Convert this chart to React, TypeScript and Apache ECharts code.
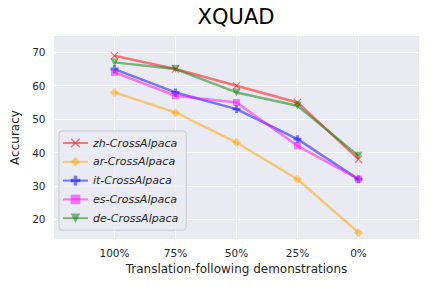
import React, { useEffect, useRef } from "react";
import * as echarts from "echarts";

const categories = ["100%", "75%", "50%", "25%", "0%"];
const zhValues = [69, 65, 60, 55, 38];
const arValues = [58, 52, 43, 32, 16];
const itValues = [65, 58, 53, 44, 32];
const esValues = [64, 57, 55, 42, 32];
const deValues = [67, 65, 58, 54, 39];
const yTicks = [20, 30, 40, 50, 60, 70];

const FONT = "DejaVu Sans";
const TXT = "#262626";

const X_PATH = "path://M0,1 L1,0 L5,4 L9,0 L10,1 L6,5 L10,9 L9,10 L5,6 L1,10 L0,9 L4,5 Z";
const PLUS_PATH = "path://M3.2,0 H6.8 V3.2 H10 V6.8 H6.8 V10 H3.2 V6.8 H0 V3.2 H3.2 Z";

const seriesDefs = [
  { name: "zh-CrossAlpaca", values: zhValues, color: "#ff0000", symbol: X_PATH, size: 8, rotate: 0 },
  { name: "ar-CrossAlpaca", values: arValues, color: "#ffa500", symbol: "diamond", size: 9, rotate: 0 },
  { name: "it-CrossAlpaca", values: itValues, color: "#0000ff", symbol: PLUS_PATH, size: 8, rotate: 0 },
  { name: "es-CrossAlpaca", values: esValues, color: "#ff00ff", symbol: "rect", size: 7, rotate: 0 },
  { name: "de-CrossAlpaca", values: deValues, color: "#008000", symbol: "triangle", size: 8, rotate: 180 },
];

export default function App() {
  const ref = useRef<HTMLDivElement>(null);
  useEffect(() => {
    if (!ref.current) return;
    const chart = echarts.init(ref.current, undefined, { renderer: "svg" });
    chart.setOption({
      animation: false,
      backgroundColor: "#ffffff",
      title: {
        text: "XQUAD",
        left: 236,
        top: 6,
        textAlign: "center",
        padding: 0,
        textStyle: { fontFamily: FONT, fontSize: 21, fontWeight: "normal", color: "#000000" },
      },
      grid: { left: 53.5, right: 12.5, top: 36, bottom: 49, show: true, backgroundColor: "#EAEAF2", borderWidth: 0 },
      xAxis: {
        type: "value",
        min: -1,
        max: 5,
        interval: 1,
        name: "Translation-following demonstrations",
        nameLocation: "middle",
        nameGap: 20,
        nameTextStyle: { fontFamily: FONT, fontSize: 12, color: TXT },
        axisLine: { show: false },
        axisTick: { show: false },
        axisLabel: {
          fontFamily: FONT,
          fontSize: 10.5,
          color: TXT,
          margin: 8,
          formatter: (v: number) => (categories[v] !== undefined ? categories[v] : ""),
        },
        splitLine: { show: true, lineStyle: { color: "#ffffff", width: 1 } },
      },
      yAxis: {
        type: "value",
        min: 14.1,
        max: 74.9,
        name: "Accuracy",
        nameLocation: "middle",
        nameRotate: 90,
        nameGap: 25,
        nameTextStyle: { fontFamily: FONT, fontSize: 12, color: TXT },
        axisLine: { show: false },
        axisTick: { show: false, customValues: yTicks },
        axisLabel: { fontFamily: FONT, fontSize: 10.5, color: TXT, margin: 8, customValues: yTicks },
        splitLine: { show: true, lineStyle: { color: "#ffffff", width: 1 } },
      },
      legend: {
        orient: "vertical",
        left: 59,
        top: 131,
        itemWidth: 25,
        itemHeight: 12,
        itemGap: 7.8,
        padding: [6.5, 8, 6.5, 3],
        backgroundColor: "rgba(234,234,242,0.8)",
        borderColor: "#cccccc",
        borderWidth: 1,
        borderRadius: 3,
        textStyle: { fontFamily: FONT, fontSize: 11, fontStyle: "italic", color: TXT },
        data: seriesDefs.map((s) => s.name),
      },
      series: seriesDefs.map((s) => ({
        name: s.name,
        type: "line",
        data: s.values.map((v, i) => [i, v]),
        symbol: s.symbol,
        symbolSize: s.size,
        symbolRotate: s.rotate,
        showAllSymbol: true,
        color: s.color,
        lineStyle: { color: s.color, width: 2.5, opacity: 0.5 },
        itemStyle: { color: s.color, opacity: 0.5, borderWidth: 0 },
        emphasis: { disabled: true },
      })),
    });
    return () => chart.dispose();
  }, []);
  return (
    <div
      ref={ref}
      style={{ position: "fixed", left: 0, top: 0, width: 432, height: 288, background: "#fff" }}
    />
  );
}
